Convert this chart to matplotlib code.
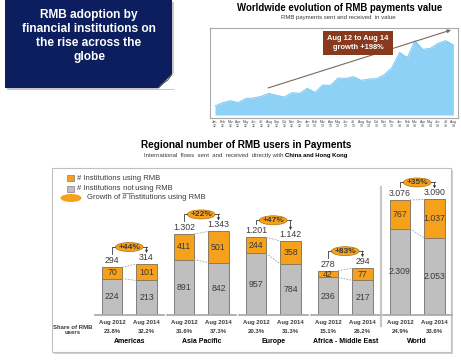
import numpy as np
import matplotlib.pyplot as plt
from matplotlib.patches import Rectangle, Ellipse, Polygon

plt.rcParams['font.family'] = ['Liberation Sans', 'DejaVu Sans']

W, H = 461, 364

# ---- top chart data (monthly RMB payments, index)
month_labels = ['Jan\n12', 'Feb\n12', 'Mar\n12', 'Apr\n12', 'May\n12', 'Jun\n12', 'Jul\n12', 'Aug\n12',
                'Sep\n12', 'Oct\n12', 'Nov\n12', 'Dec\n12', 'Jan\n13', 'Feb\n13', 'Mar\n13', 'Apr\n13',
                'May\n13', 'Jun\n13', 'Jul\n13', 'Aug\n13', 'Sep\n13', 'Oct\n13', 'Nov\n13', 'Dec\n13',
                'Jan\n14', 'Feb\n14', 'Mar\n14', 'Apr\n14', 'May\n14', 'Jun\n14', 'Jul\n14', 'Aug\n14']
payments = [27, 37, 43, 37, 50, 51, 56, 65, 59, 54, 67, 65, 80, 68, 90, 89,
            111, 110, 115, 104, 108, 109, 121, 142, 188, 172, 223, 197, 200, 215, 223, 210]

# ---- bottom chart data
regions = ['Americas', 'Asia Pacific', 'Europe', 'Africa - Middle East', 'World']
periods = ['Aug 2012', 'Aug 2014']
using_rmb = [[70, 101], [411, 501], [244, 358], [42, 77], [767, 1037]]
not_using = [[224, 213], [891, 842], [957, 784], [236, 217], [2309, 2053]]
share = [['23.8%', '32.2%'], ['31.6%', '37.3%'], ['20.3%', '31.3%'], ['15.1%', '26.2%'], ['24.9%', '33.6%']]
growth = ['+44%', '+22%', '+47%', '+83%', '+35%']

# each region drawn on its own scale (as in the original slide)
ymax = [801, 2090, 2009, 816, 3477]
group_x = [112, 184, 256, 328, 400]

orange = '#F6A11C'
grey = '#BFBFBF'
dark = '#3A3A3A'


def fmt(v):
    return f'{v:,}'.replace(',', '.')


fig = plt.figure(figsize=(W / 100, H / 100), dpi=100)
bg = fig.add_axes([0, 0, 1, 1])
bg.set_xlim(0, W)
bg.set_ylim(H, 0)
bg.axis('off')
r = fig.canvas.get_renderer()

# navy title box with folded corner
bg.add_patch(Rectangle((7, 2), 167, 88, fc='#C8C8C8', ec='none'))
bg.add_patch(Rectangle((5, 0), 167, 88, fc='#0C1E5E', ec='none'))
bg.add_patch(Polygon([(158, 89), (175, 89), (175, 72)], fc='white', ec='none'))
bg.add_patch(Polygon([(158, 88), (172, 74), (168, 80), (162, 84)], fc='#F2F2F2', ec='#555555', lw=0.6))
bg.text(89, 36, 'RMB adoption by\nfinancial institutions on\nthe rise across the\nglobe',
        ha='center', va='center', color='white', fontsize=8.6, fontweight='bold', linespacing=1.2)

# top chart titles
bg.text(340, 8, 'Worldwide evolution of RMB payments value', ha='center', va='center',
        fontsize=6.9, fontweight='bold', color='black')
bg.text(338, 17, 'RMB payments sent and received  in value', ha='center', va='center',
        fontsize=4.3, color=dark)

# top area chart
ax2 = fig.add_axes([210 / W, 1 - 118 / H, 248 / W, 90 / H])
x = np.arange(len(payments))
ax2.fill_between(x, 0, payments, color='#8ED1F7', lw=0)
ax2.plot(x, payments, color='#6EC0EE', lw=0.6)
ax2.set_xlim(-0.65, len(payments) - 0.4)
ax2.set_ylim(-9, 261)
ax2.set_yticks([])
ax2.set_xticks(x)
ax2.set_xticklabels(month_labels, fontsize=2.4, color=dark, linespacing=1.0)
ax2.tick_params(axis='x', length=0, pad=1.5)
for s in ax2.spines.values():
    s.set_color('#A8A8A8')
    s.set_linewidth(0.8)

# lower section titles
bg.text(246, 145, 'Regional number of RMB users in Payments', ha='center', va='center',
        fontsize=7.2, fontweight='bold', color='black')
t1 = bg.text(0, 155.5, 'International  flows  sent  and  received  directly with ', ha='left', va='center',
             fontsize=4.3, color=dark)
t2 = bg.text(0, 155.5, 'China and Hong Kong', ha='left', va='center', fontsize=4.3, fontweight='bold', color='black')
w1 = t1.get_window_extent(r).width
w2 = t2.get_window_extent(r).width
x0 = 246 - (w1 + w2) / 2
t1.set_x(x0)
t2.set_x(x0 + w1)

# lower box
bg.add_patch(Rectangle((54, 170), 399, 184, fc='#D0D0D0', ec='none'))
bg.add_patch(Rectangle((52, 168), 399, 184, fc='white', ec='#C0C0C0', lw=0.8))

# legend
leg_fs = 5.5
bg.add_patch(Rectangle((67, 175), 7, 6, fc=orange, ec='#7F7F7F', lw=0.5))
bg.text(77, 178, '# Institutions using RMB', va='center', fontsize=leg_fs, color=dark)
bg.add_patch(Rectangle((67, 186), 7, 6, fc=grey, ec='#7F7F7F', lw=0.5))
xx = 77
for s, ul in [('# Institutions', False), (' not', True), (' using RMB', False)]:
    t = bg.text(xx, 189, s, va='center', fontsize=leg_fs, color=dark)
    w = t.get_window_extent(r).width
    if ul:
        bg.plot([xx + 1.5, xx + w], [192.5, 192.5], color=dark, lw=0.4)
    xx += w
bg.add_patch(Ellipse((71, 198), 21, 8, fc=orange, ec='none'))
bg.text(87, 197.5, 'Growth of # Institutions using RMB', va='center', fontsize=leg_fs, color=dark)

# share row label and world separator
bg.text(73, 330, 'Share of RMB\nusers', ha='center', va='center', fontsize=4.3,
        fontweight='bold', color=dark, linespacing=1.1)
bg.plot([381, 381], [187, 326], color='#C8C8C8', lw=1.6)

bw = 0.58
pt = 0.72
for i, reg in enumerate(regions):
    ax = fig.add_axes([(group_x[i] - 17.25) / W, 1 - 315 / H, 69 / W, 130 / H])
    ax.set_xlim(-0.5, 1.5)
    ax.set_ylim(0, ymax[i])
    ax.axis('off')
    k = ymax[i] / 130
    xs = np.arange(2)
    nu = np.array(not_using[i])
    us = np.array(using_rmb[i])
    tot = nu + us
    ax.bar(xs, nu, width=bw, color=grey, edgecolor='#7F7F7F', lw=0.7)
    ax.bar(xs, us, bottom=nu, width=bw, color=orange, edgecolor='#8C7A60', lw=0.7)
    ax.plot([-0.5, 1.5], [0, 0], color='#A6A6A6', lw=1.2, clip_on=False)
    ax.plot([bw / 2, 1 - bw / 2], [tot[0], tot[1]], ls='--', color='#A0A0A0', lw=0.6, dashes=(2, 1.5))
    ax.plot([bw / 2, 1 - bw / 2], [nu[0], nu[1]], ls='--', color='#A0A0A0', lw=0.6, dashes=(2, 1.5))
    for j in range(2):
        ax.text(j, nu[j] / 2, fmt(nu[j]), ha='center', va='center', fontsize=6.3, color=dark)
        ax.text(j, nu[j] + us[j] / 2, fmt(us[j]), ha='center', va='center', fontsize=6.3, color=dark)
        ax.annotate(fmt(tot[j]), (j, tot[j]), xytext=(0, 1.5), textcoords='offset points',
                    ha='center', va='bottom', fontsize=6.3, color=dark, annotation_clip=False)
        ax.annotate(periods[j], (j, 0), xytext=(0, -7.5 * pt), textcoords='offset points',
                    ha='center', va='center', fontsize=4.3, fontweight='bold', color=dark,
                    annotation_clip=False)
        ax.annotate(share[i][j], (j, 0), xytext=(0, -16.5 * pt), textcoords='offset points',
                    ha='center', va='center', fontsize=4.3, fontweight='bold', color=dark,
                    annotation_clip=False)
    ax.annotate(reg, (0.5, 0), xytext=(0, -26.5 * pt), textcoords='offset points',
                ha='center', va='center', fontsize=5.0, fontweight='bold', color='black',
                annotation_clip=False)
    level = tot.max() + 17 * k
    ax.add_patch(Ellipse((0.5, level), 0.8, 9 * k, fc=orange, ec='#B07010', lw=0.5, clip_on=False))
    ax.text(0.5, level, growth[i], ha='center', va='center', fontsize=6.0, fontweight='bold',
            color=dark, clip_on=False)
    ax.plot([0, 0, 0.1], [tot[0] + 13 * k, level, level], color=dark, lw=0.6, clip_on=False)
    ax.plot([0.9, 1], [level, level], color=dark, lw=0.6, clip_on=False)
    ax.annotate('', xy=(1, tot[1] + 11 * k), xytext=(1, level),
                arrowprops=dict(arrowstyle='-|>', lw=0.6, color=dark, mutation_scale=3.5,
                                shrinkA=0, shrinkB=0), annotation_clip=False)

# overlay: growth arrow and label on the area chart
top = fig.add_axes([0, 0, 1, 1], zorder=10)
top.set_xlim(0, W)
top.set_ylim(H, 0)
top.axis('off')
top.annotate('', xy=(451, 30), xytext=(268, 88),
             arrowprops=dict(arrowstyle='-|>', lw=0.8, color='#7A6A62', mutation_scale=5,
                             shrinkA=0, shrinkB=0))
top.text(358, 43, 'Aug 12 to Aug 14\ngrowth +198%', ha='center', va='center', fontsize=5.4,
         fontweight='bold', color='white', linespacing=1.3,
         bbox=dict(boxstyle='square,pad=0.6', fc='#8A3A1C', ec='none'))

fig.savefig('out.png', dpi=100)
